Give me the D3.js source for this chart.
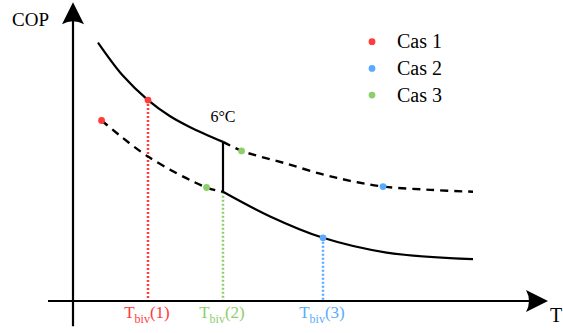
<!DOCTYPE html>
<html>
<head>
<meta charset="utf-8">
<script src="https://cdn.jsdelivr.net/npm/d3@7"></script>
<style>
  html, body { margin: 0; padding: 0; background: #fff; }
  svg { display: block; }
  text { font-family: "Liberation Serif", "DejaVu Serif", serif; }
</style>
</head>
<body>
<div id="chart"></div>
<script>
// COP curves (T in arbitrary degrees, 6 = the switch point)
var highSolidT   = [-11.5, -8.0, -4.5, -1.4, 1.4, 6];
var highSolidCOP = [5.44, 4.74, 4.23, 3.89, 3.66, 3.35];

var highDashT    = [6, 8.6, 10.5, 14.7, 19.6, 23.8, 28.4, 35.0, 41];
var highDashCOP  = [3.35, 3.16, 3.07, 2.90, 2.68, 2.53, 2.41, 2.34, 2.30];

var lowDashT     = [-11.0, -4.5, 3.7, 6];
var lowDashCOP   = [3.80, 3.04, 2.39, 2.30];

var lowSolidT    = [6, 12.6, 20.0, 28.9, 41];
var lowSolidCOP  = [2.30, 1.78, 1.33, 1.02, 0.88];

// switch temperature
var switchT = 6;
var switchLabel = '6°C';

// the three cases
var cases      = ['Cas 1', 'Cas 2', 'Cas 3'];
var caseColors = ['#ff3b3b', '#5aabff', '#8dcf6a'];
var caseDotT   = [[-11.0, -4.5], [28.4, 20.0], [8.6, 3.7]];
var caseDotCOP = [[3.80, 4.23], [2.41, 1.33], [3.16, 2.39]];
var bivT       = [-4.5, 20.0, 6];     // where the dotted drop line goes
var bivCOP     = [4.23, 1.33, 2.30];
var bivNames   = ['(1)', '(3)', '(2)'];

var width = 563, height = 333;
var serif = '"Liberation Serif", "DejaVu Serif", serif';

var svg = d3.select('#chart').append('svg')
    .attr('width', width)
    .attr('height', height)
    .attr('font-family', serif);

var x = d3.scaleLinear().domain([-15, 51.5]).range([73, 548]);
var y = d3.scaleLinear().domain([0, 6]).range([301, 16]);

var line = d3.line()
    .x(function(d){ return x(d[0]); })
    .y(function(d){ return y(d[1]); })
    .curve(d3.curveCatmullRom.alpha(0.5));

function pairs(ts, vs){
    return ts.map(function(t, i){ return [t, vs[i]]; });
}

// axes with arrow heads
var x0 = x(-15), y0 = y(0);
var xEnd = x(51.5), yTop = y(6.29);

svg.append('line')
    .attr('x1', x(-18.5)).attr('x2', xEnd - 10)
    .attr('y1', y0).attr('y2', y0)
    .attr('stroke', '#000').attr('stroke-width', 2.2);
svg.append('line')
    .attr('x1', x0).attr('x2', x0)
    .attr('y1', y(-0.53)).attr('y2', yTop + 10)
    .attr('stroke', '#000').attr('stroke-width', 2.2);

svg.append('path')
    .attr('d', 'M' + xEnd + ',' + y0 + ' L' + (xEnd - 22) + ',' + (y0 - 11) +
               ' Q' + (xEnd - 16) + ',' + y0 + ' ' + (xEnd - 22) + ',' + (y0 + 11) + ' Z')
    .attr('fill', '#000');
svg.append('path')
    .attr('d', 'M' + x0 + ',' + yTop + ' L' + (x0 - 11) + ',' + (yTop + 22) +
               ' Q' + x0 + ',' + (yTop + 16) + ' ' + (x0 + 11) + ',' + (yTop + 22) + ' Z')
    .attr('fill', '#000');

svg.append('text')
    .attr('x', 12).attr('y', 26)
    .attr('font-family', serif)
    .attr('font-size', 19)
    .text('COP');
svg.append('text')
    .attr('x', 550).attr('y', 322)
    .attr('font-family', serif)
    .attr('font-size', 20)
    .text('T');

// dotted drop lines to the T axis
bivT.forEach(function(t, i){
    svg.append('line')
        .attr('x1', x(t)).attr('x2', x(t))
        .attr('y1', y(bivCOP[i])).attr('y2', y0 - 1)
        .attr('stroke', caseColors[i])
        .attr('stroke-width', 2.5)
        .attr('stroke-dasharray', '2,2');

    var lab = svg.append('text')
        .attr('x', x(t) - 1).attr('y', 318)
        .attr('text-anchor', 'middle')
        .attr('font-family', serif)
        .attr('font-size', 17)
        .attr('fill', caseColors[i]);
    lab.append('tspan').text('T');
    lab.append('tspan').attr('font-size', 12).attr('dy', 4.5).text('biv');
    lab.append('tspan').attr('dy', -4.5).text(bivNames[i]);
});

// curves
svg.append('path')
    .attr('d', line(pairs(highSolidT, highSolidCOP)))
    .attr('fill', 'none').attr('stroke', '#000').attr('stroke-width', 2.2);
svg.append('path')
    .attr('d', line(pairs(lowSolidT, lowSolidCOP)))
    .attr('fill', 'none').attr('stroke', '#000').attr('stroke-width', 2.2);
svg.append('path')
    .attr('d', line(pairs(highDashT, highDashCOP)))
    .attr('fill', 'none').attr('stroke', '#000').attr('stroke-width', 2.4)
    .attr('stroke-dasharray', '8,6');
svg.append('path')
    .attr('d', line(pairs(lowDashT, lowDashCOP)))
    .attr('fill', 'none').attr('stroke', '#000').attr('stroke-width', 2.4)
    .attr('stroke-dasharray', '8,6');

// vertical jump at the switch temperature
svg.append('line')
    .attr('x1', x(switchT)).attr('x2', x(switchT))
    .attr('y1', y(highSolidCOP[highSolidCOP.length - 1]))
    .attr('y2', y(lowSolidCOP[0]))
    .attr('stroke', '#000').attr('stroke-width', 2.2);

svg.append('text')
    .attr('x', x(switchT)).attr('y', 121.5)
    .attr('text-anchor', 'middle')
    .attr('font-family', serif)
    .attr('font-size', 16)
    .text(switchLabel);

// case dots
cases.forEach(function(c, i){
    caseDotT[i].forEach(function(t, j){
        svg.append('circle')
            .attr('cx', x(t)).attr('cy', y(caseDotCOP[i][j]))
            .attr('r', 3.4)
            .attr('fill', caseColors[i]);
    });
});

// legend
var legend = svg.selectAll('.legend')
    .data(cases)
    .enter().append('g')
    .attr('class', 'legend')
    .attr('transform', function(d, i){ return 'translate(372,' + (48.3 + i * 26.7) + ')'; });

legend.append('circle')
    .attr('cx', 0).attr('cy', -6.6)
    .attr('r', 3.4)
    .attr('fill', function(d, i){ return caseColors[i]; });

legend.append('text')
    .attr('x', 25).attr('y', 0)
    .attr('font-family', serif)
    .attr('font-size', 20)
    .text(function(d){ return d; });
</script>
</body>
</html>
